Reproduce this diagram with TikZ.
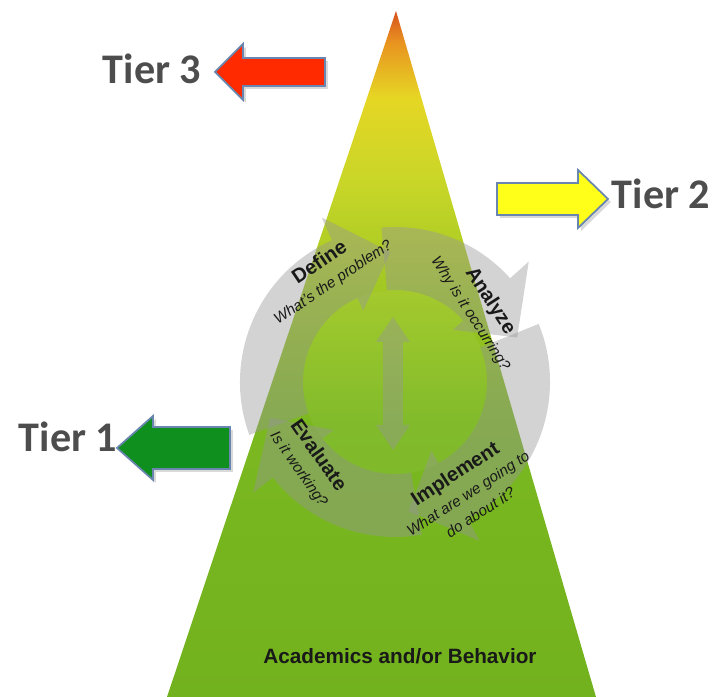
\documentclass[tikz,border=0pt]{standalone}
\usepackage{fontspec}
\setmainfont{Liberation Sans}
\newfontfamily\tierfont{Carlito}
\usetikzlibrary{shadows}

\definecolor{ptop}{HTML}{D8501C}
\definecolor{porange}{HTML}{E89420}
\definecolor{pyellow}{HTML}{E6D624}
\definecolor{pyg}{HTML}{C8D628}
\definecolor{pgy}{HTML}{9CC622}
\definecolor{pgreen}{HTML}{7BB820}
\definecolor{pbottom}{HTML}{72B21E}
\definecolor{tiergray}{HTML}{4D4D4D}
\definecolor{tierred}{HTML}{FF2A00}
\definecolor{tieryellow}{HTML}{FFFF1A}
\definecolor{tiergreen}{HTML}{0E8F1E}
\definecolor{edgeblue}{HTML}{6A86B0}
\definecolor{ringgray}{HTML}{969698}

\pgfdeclareverticalshading{pyramid}{100bp}{color(0bp)=(pbottom); color(25bp)=(pbottom);
  color(45bp)=(pgreen); color(53.8bp)=(pgy); color(62.5bp)=(pyg); color(68.7bp)=(pyellow);
  color(72.7bp)=(porange); color(75bp)=(ptop); color(100bp)=(ptop)}

\newcommand{\stepq}{\fontsize{4.3}{4.8}\selectfont\mdseries\itshape}

\tikzset{
  tierlabel/.style={font=\tierfont\fontsize{12}{14}\selectfont\bfseries, text=tiergray},
  tierarrow/.style={draw=edgeblue, line width=.5pt,
    drop shadow={shadow xshift=.03, shadow yshift=-.03, opacity=.3}},
  ringarrow/.style={fill=ringgray, opacity=.42},
  steplabel/.style={align=center, inner sep=0pt, text=black!90,
    font=\fontsize{5.7}{6.4}\selectfont\bfseries}
}

\begin{document}
\begin{tikzpicture}
\useasboundingbox (0,0) rectangle (7.12,6.97);

% Pyramid
\shade[shading=pyramid] (1.67,0) -- (3.96,6.86) -- (5.96,0) -- cycle;

% Cycle of four steps
\begin{scope}[shift={(3.95,3.15)}]
  \fill[white, opacity=.05] (0,0) circle (0.92);
  \foreach \s/\b/\t in {200/114/92, 95/42/20, 22/-62/-84, 280/218/196}
    \fill[ringarrow] (\s:1.55) arc[start angle=\s, end angle=\b, radius=1.55]
      -- (\b:1.80) -- (\t:1.30) -- (\b:0.78) -- (\b:0.92)
      arc[start angle=\b, end angle=\s, radius=0.92] -- cycle;
\end{scope}

% double arrow in the middle
\fill[ringarrow] (3.93,3.80) -- (4.10,3.55) -- (4.03,3.55) -- (4.03,2.72) -- (4.10,2.72)
  -- (3.93,2.47) -- (3.76,2.72) -- (3.83,2.72) -- (3.83,3.55) -- (3.76,3.55) -- cycle;

% Step labels
\node[steplabel, rotate=34] (define) at (3.26,4.25)
  {Define\\{\stepq What's the problem?}};
\node[steplabel, rotate=-57] (analyze) at (4.81,3.90)
  {Analyze\\{\stepq Why is it occurring?}};
\node[steplabel, rotate=-55] (evaluate) at (3.09,2.35)
  {Evaluate\\{\stepq Is it working?}};
\node[steplabel, rotate=33] (implement) at (4.67,2.05)
  {Implement\\{\stepq What are we going to}\\{\stepq do about it?}};

\node[font=\fontsize{5.9}{7}\selectfont\bfseries, text=black!90] (base) at (4.00,0.41)
  {Academics and/or Behavior};

% Tier arrows
\filldraw[tierarrow, fill=tierred] (2.15,6.25) -- (2.43,6.53) -- (2.43,6.39) -- (3.25,6.39)
  -- (3.25,6.11) -- (2.43,6.11) -- (2.43,5.97) -- cycle; % Tier 3
\filldraw[tierarrow, fill=tieryellow] (6.08,4.98) -- (5.78,5.27) -- (5.78,5.14) -- (4.97,5.14)
  -- (4.97,4.82) -- (5.78,4.82) -- (5.78,4.69) -- cycle; % Tier 2
\filldraw[tierarrow, fill=tiergreen] (1.17,2.49) -- (1.53,2.81) -- (1.53,2.70) -- (2.30,2.70)
  -- (2.30,2.28) -- (1.53,2.28) -- (1.53,2.17) -- cycle; % Tier 1

\node[tierlabel] (tier3) at (1.52,6.28) {Tier 3};
\node[tierlabel] (tier2) at (6.61,5.03) {Tier 2};
\node[tierlabel] (tier1) at (0.68,2.60) {Tier 1};
\end{tikzpicture}
\end{document}
